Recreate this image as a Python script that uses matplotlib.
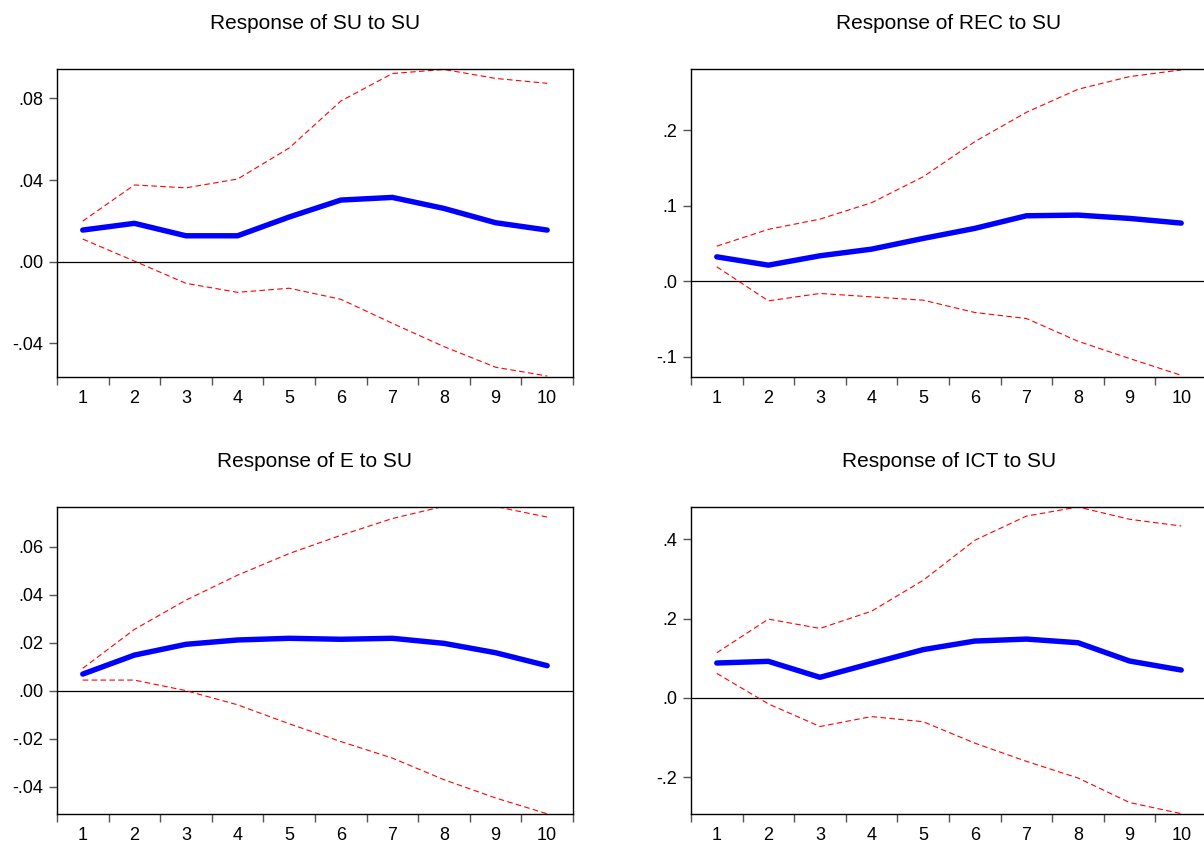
import matplotlib
matplotlib.use("Agg")
import matplotlib.pyplot as plt

plt.rcParams['font.family'] = ['Liberation Sans', 'DejaVu Sans']

periods = [1, 2, 3, 4, 5, 6, 7, 8, 9, 10]

titles = ["Response of SU to SU", "Response of REC to SU",
          "Response of E to SU", "Response of ICT to SU"]

# impulse responses (blue) and +/- 2 S.E. bands (red dashed)
su_resp = [0.0155, 0.0188, 0.0127, 0.0127, 0.0219, 0.0302, 0.0315, 0.0261, 0.0191, 0.0155]
su_upper = [0.0199, 0.0376, 0.0362, 0.0405, 0.0557, 0.0787, 0.0922, 0.0942, 0.0898, 0.0874]
su_lower = [0.0111, 0.0003, -0.0106, -0.0150, -0.0130, -0.0184, -0.0302, -0.0416, -0.0517, -0.0560]

rec_resp = [0.0322, 0.0212, 0.0336, 0.0424, 0.0566, 0.0699, 0.0866, 0.0875, 0.0831, 0.0769]
rec_upper = [0.0464, 0.0686, 0.0822, 0.1039, 0.1383, 0.1848, 0.2237, 0.2542, 0.2710, 0.2798]
rec_lower = [0.0190, -0.0261, -0.0163, -0.0208, -0.0252, -0.0415, -0.0495, -0.0796, -0.1025, -0.1247]

e_resp = [0.0069, 0.0148, 0.0193, 0.0211, 0.0218, 0.0214, 0.0218, 0.0197, 0.0158, 0.0104]
e_upper = [0.0093, 0.0255, 0.0377, 0.0481, 0.0571, 0.0647, 0.0717, 0.0768, 0.0767, 0.0723]
e_lower = [0.0044, 0.0044, 0.0000, -0.0059, -0.0138, -0.0212, -0.0281, -0.0371, -0.0447, -0.0513]

ict_resp = [0.0882, 0.0924, 0.0521, 0.0874, 0.1220, 0.1436, 0.1486, 0.1394, 0.0932, 0.0705]
ict_upper = [0.114, 0.199, 0.1755, 0.219, 0.297, 0.398, 0.459, 0.482, 0.451, 0.434]
ict_lower = [0.062, -0.015, -0.072, -0.047, -0.060, -0.114, -0.160, -0.202, -0.264, -0.292]

yticks = [[-0.04, 0.0, 0.04, 0.08],
          [-0.1, 0.0, 0.1, 0.2],
          [-0.04, -0.02, 0.0, 0.02, 0.04, 0.06],
          [-0.2, 0.0, 0.2, 0.4]]
ylabels = [["-.04", ".00", ".04", ".08"],
           ["-.1", ".0", ".1", ".2"],
           ["-.04", "-.02", ".00", ".02", ".04", ".06"],
           ["-.2", ".0", ".2", ".4"]]
ylims = [(-0.0565, 0.0944), (-0.127, 0.281), (-0.0514, 0.0765), (-0.293, 0.482)]

resp = [su_resp, rec_resp, e_resp, ict_resp]
upper = [su_upper, rec_upper, e_upper, ict_upper]
lower = [su_lower, rec_lower, e_lower, ict_lower]

fig = plt.figure(figsize=(12.04, 8.44), dpi=100)
# axes boxes in figure fractions (left, bottom, width, height)
boxes = [[0.0473, 0.5533, 0.4286, 0.3649],
         [0.5739, 0.5533, 0.4286, 0.3649],
         [0.0473, 0.0355, 0.4286, 0.3638],
         [0.5739, 0.0355, 0.4286, 0.3638]]

for i in range(4):
    ax = fig.add_axes(boxes[i])
    ax.axhline(0, color="black", lw=0.9, zorder=1)
    ax.plot(periods, upper[i], color="red", lw=0.8, ls=(0, (5, 3)), zorder=2)
    ax.plot(periods, lower[i], color="red", lw=0.8, ls=(0, (5, 3)), zorder=2)
    ax.plot(periods, resp[i], color="#0000ff", lw=3.9, solid_capstyle="round",
            solid_joinstyle="round", zorder=3)
    ax.set_xlim(0.5, 10.5)
    ax.set_ylim(*ylims[i])
    # ticks between periods, labels on periods
    ax.set_xticks([p - 0.5 for p in periods] + [10.5])
    ax.set_xticklabels([])
    ax.set_xticks(periods, minor=True)
    ax.set_xticklabels([str(p) for p in periods], minor=True)
    ax.tick_params(axis="x", which="major", direction="out", length=6, width=1, color="#555555")
    ax.tick_params(axis="x", which="minor", length=0, pad=9.5, labelsize=13)
    ax.set_yticks(yticks[i])
    ax.set_yticklabels(ylabels[i])
    ax.tick_params(axis="y", direction="out", length=6, width=1, color="#555555",
                   pad=4, labelsize=13)
    for s in ax.spines.values():
        s.set_linewidth(1.0)
    ax.set_title(titles[i], fontsize=15, pad=28.5)

fig.savefig("out.png", dpi=100)
